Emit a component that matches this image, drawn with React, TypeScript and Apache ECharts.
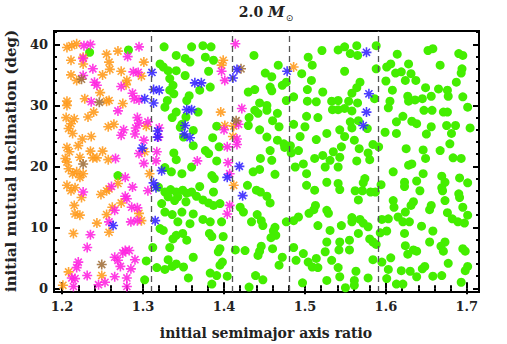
import { useEffect, useRef } from 'react';
import * as echarts from 'echarts';

const xMajorTicks = [1.2, 1.3, 1.4, 1.5, 1.6, 1.7];
const xMinorTicks = [1.22, 1.24, 1.26, 1.28, 1.32, 1.34, 1.36, 1.38, 1.42, 1.44, 1.46, 1.48, 1.52, 1.54, 1.56, 1.58, 1.62, 1.64, 1.66, 1.68];
const yMajorTicks = [0, 10, 20, 30, 40];
const yMinorTicks = [2, 4, 6, 8, 12, 14, 16, 18, 22, 24, 26, 28, 32, 34, 36, 38, 42];
const dashedLinesX = [1.312, 1.4074, 1.4806, 1.5885];

const greenPts = [
  [1.234,38.7],[1.282,39.1],[1.326,39.6],[1.341,38.2],[1.352,37.7],[1.360,39.6],[1.358,37.1],[1.321,36.8],[1.325,36.3],[1.331,35.7],[1.341,35.7],[1.333,34.4],[1.352,34.9],[1.338,31.9],[1.330,30.8],[1.327,29.7],[1.341,28.9],[1.354,30.8],[1.357,31.6],[1.353,28.1],[1.348,26.9],[1.362,25.9],[1.350,24.8],[1.338,22.2],[1.341,21.1],[1.362,23.4],
  [1.337,33.3],[1.333,32.5],[1.336,28.0],[1.346,26.4],
  [1.269,18.5],[1.327,19.8],[1.335,19.1],[1.348,18.8],[1.360,19.9],[1.319,16.6],[1.327,15.8],[1.334,16.2],[1.341,15.8],[1.349,16.1],[1.354,15.6],[1.331,15.0],[1.343,15.0],[1.360,15.8],[1.323,13.9],[1.339,14.4],[1.353,14.2],[1.327,12.5],[1.336,12.1],[1.348,12.5],[1.362,12.2],[1.343,10.9],[1.358,10.6],[1.325,9.5],[1.321,9.8],[1.341,8.7],[1.349,9.0],[1.354,7.9],[1.337,8.1],[1.312,6.7],[1.333,6.7],[1.362,5.1],[1.331,4.7],[1.304,4.5],[1.317,3.4],[1.327,3.1],[1.336,3.6],[1.341,4.0],[1.350,3.5],[1.356,1.7],[1.302,1.4],
  [1.374,39.8],[1.384,39.6],[1.377,37.9],[1.387,37.4],[1.381,35.6],[1.383,33.0],[1.370,32.5],[1.368,28.9],[1.391,26.6],[1.386,24.7],[1.394,23.2],[1.377,22.6],[1.381,22.1],[1.391,20.9],[1.437,38.2],[1.467,36.6],[1.451,35.3],[1.459,34.7],[1.457,33.0],[1.472,33.3],[1.477,33.8],[1.430,32.2],[1.438,32.6],[1.459,32.4],[1.444,30.4],[1.477,30.8],[1.438,29.2],[1.431,28.0],[1.442,28.7],[1.453,29.2],[1.466,28.7],[1.460,27.5],[1.453,30.0],[1.430,26.7],[1.444,26.0],[1.468,26.5],[1.453,24.8],[1.466,24.3],[1.474,23.7],[1.475,23.1],[1.457,22.6],[1.445,21.3],[1.459,21.0],[1.482,23.4],[1.504,37.9],[1.521,39.0],[1.509,36.6],[1.496,35.2],[1.508,34.1],[1.503,32.6],[1.522,32.2],[1.486,31.4],[1.503,30.7],[1.514,30.6],[1.533,30.7],[1.534,29.3],[1.502,28.2],[1.516,28.0],[1.486,26.9],[1.500,26.5],[1.494,24.9],[1.527,25.4],[1.514,24.4],[1.483,22.2],[1.492,22.6],[1.512,21.3],[1.531,21.0],[1.522,21.8],[1.535,22.4],
  [1.385,18.5],[1.388,18.0],[1.370,16.7],[1.387,15.8],[1.366,15.1],[1.374,14.5],[1.381,14.0],[1.387,13.6],[1.395,13.9],[1.374,11.3],[1.383,10.9],[1.397,10.9],[1.382,9.0],[1.385,8.5],[1.399,8.5],[1.395,6.5],[1.393,6.0],[1.398,4.3],[1.395,3.8],[1.383,2.5],[1.391,2.1],[1.404,2.0],[1.385,0.7],[1.431,0.2],[1.444,19.5],[1.436,19.1],[1.463,18.7],[1.429,16.9],[1.440,16.1],[1.445,15.8],[1.453,15.1],[1.457,14.0],[1.420,13.3],[1.424,12.5],[1.441,12.1],[1.434,10.9],[1.446,11.1],[1.448,10.3],[1.463,10.0],[1.461,9.4],[1.464,8.7],[1.458,8.3],[1.446,6.9],[1.444,6.1],[1.442,5.4],[1.460,6.5],[1.414,6.3],[1.426,6.2],[1.472,5.1],[1.468,3.8],[1.439,2.1],[1.448,1.4],[1.477,10.9],[1.486,11.1],[1.488,19.9],[1.498,20.4],[1.502,18.8],[1.525,19.9],[1.502,16.9],[1.512,16.1],[1.527,17.4],[1.513,13.6],[1.511,12.9],[1.505,12.3],[1.527,12.8],[1.529,12.3],[1.492,11.7],[1.516,10.3],[1.531,9.5],[1.486,6.7],[1.489,4.6],[1.498,5.7],[1.504,4.3],[1.509,3.5],[1.514,4.9],[1.516,3.4],[1.527,7.6],[1.525,6.0],[1.533,4.6],[1.527,1.3],[1.497,0.9],
  [1.541,39.1],[1.549,39.6],[1.556,38.5],[1.564,39.8],[1.565,38.2],[1.588,39.8],[1.588,36.0],[1.549,35.6],[1.568,33.8],[1.564,32.9],[1.558,32.0],[1.541,30.8],[1.554,30.7],[1.565,30.4],[1.541,29.3],[1.549,29.5],[1.558,29.1],[1.556,27.3],[1.566,27.5],[1.543,26.0],[1.558,26.3],[1.577,26.2],[1.549,24.9],[1.561,24.3],[1.545,23.2],[1.567,22.9],[1.578,22.2],[1.584,23.6],[1.591,23.2],[1.543,21.5],[1.564,20.9],[1.580,21.1],[1.586,31.1],[1.601,36.3],[1.606,36.8],[1.614,38.4],[1.612,35.3],[1.619,35.5],[1.628,36.8],[1.624,34.1],[1.631,35.2],[1.637,34.1],[1.600,34.0],[1.608,32.5],[1.605,30.7],[1.603,29.6],[1.628,30.7],[1.627,31.5],[1.636,30.9],[1.649,32.9],[1.656,31.5],[1.645,31.1],[1.621,28.2],[1.632,27.4],[1.613,27.3],[1.599,25.6],[1.613,25.4],[1.647,29.2],[1.657,29.2],[1.638,27.0],[1.650,25.3],[1.656,26.5],[1.652,39.0],[1.658,39.3],[1.667,36.6],[1.665,32.7],[1.676,32.5],[1.677,31.5],[1.687,33.8],[1.690,38.5],[1.695,38.2],[1.694,36.0],[1.693,35.3],[1.695,31.4],[1.701,29.7],[1.671,28.9],[1.676,28.9],[1.675,26.7],[1.686,26.7],[1.681,25.4],[1.679,23.7],[1.704,26.3],[1.625,22.9],[1.646,22.7],[1.667,22.6],[1.632,20.4],[1.649,21.3],[1.693,21.3],[1.683,21.4],
  [1.541,19.9],[1.628,20.2],[1.609,19.1],[1.646,18.8],[1.638,17.6],[1.623,17.4],[1.623,16.7],[1.669,18.4],[1.673,17.4],[1.691,18.1],[1.701,17.3],[1.574,18.0],[1.572,17.3],[1.541,17.2],[1.543,16.2],[1.562,16.0],[1.571,16.0],[1.581,15.8],[1.587,15.8],[1.594,17.0],[1.566,14.5],[1.642,16.0],[1.669,16.5],[1.670,16.0],[1.690,15.5],[1.691,14.9],[1.673,14.4],[1.609,14.4],[1.610,13.3],[1.634,14.2],[1.631,13.6],[1.624,12.5],[1.656,13.6],[1.654,12.9],[1.695,13.3],[1.701,12.0],[1.676,12.4],[1.682,11.4],[1.689,10.9],[1.697,10.7],[1.558,11.6],[1.558,10.9],[1.568,11.3],[1.572,10.7],[1.578,10.1],[1.545,10.3],[1.595,11.3],[1.603,11.4],[1.615,11.7],[1.621,10.9],[1.629,10.9],[1.644,10.2],[1.658,9.4],[1.623,9.0],[1.601,9.4],[1.593,9.1],[1.566,9.0],[1.555,7.9],[1.543,7.6],[1.580,8.1],[1.584,7.6],[1.588,7.2],[1.654,7.6],[1.673,7.6],[1.668,6.9],[1.624,7.0],[1.634,6.3],[1.627,5.6],[1.638,6.1],[1.671,6.1],[1.695,6.5],[1.698,6.1],[1.555,6.3],[1.542,6.3],[1.584,4.7],[1.595,4.3],[1.606,5.0],[1.677,4.1],[1.701,3.6],[1.698,2.9],[1.693,1.0],[1.541,3.4],[1.563,2.8],[1.603,3.1],[1.619,2.9],[1.630,2.8],[1.645,3.2],[1.648,3.6],[1.638,1.9],[1.658,2.0],[1.669,2.1],[1.578,1.7],[1.601,1.6],[1.543,1.9],[1.561,1.3],[1.561,0.5],[1.550,0.1],[1.613,0.7],[1.621,0.7],
];

const orangePts = [
  [1.206,39.5],[1.212,39.8],[1.218,40.1],[1.255,38.4],[1.269,38.9],[1.258,37.1],[1.211,37.4],[1.226,36.8],[1.226,37.9],[1.301,37.1],[1.273,35.6],[1.250,35.0],[1.259,35.9],[1.211,35.0],[1.218,34.1],[1.280,34.1],[1.279,33.4],[1.298,34.8],[1.247,32.1],[1.228,31.1],[1.206,30.7],[1.206,30.0],[1.239,28.9],[1.258,30.8],[1.255,30.7],[1.232,28.1],[1.205,28.0],[1.215,27.8],[1.211,27.0],[1.208,26.2],[1.213,25.4],[1.225,24.5],[1.236,24.9],[1.257,26.5],[1.264,26.9],[1.275,30.3],[1.304,26.6],[1.220,23.4],[1.206,23.1],[1.209,22.4],[1.204,21.3],[1.206,20.7],[1.222,21.5],[1.235,22.5],[1.238,21.4],[1.243,21.4],[1.250,22.5],[1.257,21.1],[1.302,22.4],
  [1.208,19.6],[1.213,18.8],[1.218,19.1],[1.226,18.8],[1.222,18.2],[1.206,16.9],[1.211,16.0],[1.216,16.5],[1.224,14.9],[1.248,15.4],[1.255,16.0],[1.258,16.3],[1.269,17.2],[1.308,18.8],[1.215,13.6],[1.216,12.2],[1.222,12.0],[1.262,13.3],[1.273,14.0],[1.255,12.1],[1.295,12.3],[1.298,11.1],[1.243,10.7],[1.258,9.2],[1.214,9.0],[1.249,2.1],[1.208,2.7],[1.201,0.5],
  [1.399,37.4],[1.397,36.6],[1.486,36.3],[1.396,28.9],[1.401,26.7],[1.412,26.6],[1.411,24.9],[1.412,16.9],
];

const magentaPts = [
  [1.227,39.8],[1.235,40.0],[1.295,39.6],[1.281,38.0],[1.226,37.7],[1.238,36.0],[1.226,34.9],[1.288,35.5],[1.294,35.4],[1.240,33.8],[1.243,33.3],[1.273,33.1],[1.287,32.0],[1.289,31.1],[1.295,30.9],[1.236,30.6],[1.269,29.1],[1.293,28.0],[1.295,27.1],[1.306,27.3],[1.291,26.3],[1.276,26.0],[1.273,25.1],[1.290,25.3],[1.301,24.3],[1.320,26.3],[1.319,24.8],[1.295,22.1],[1.317,22.4],[1.266,21.3],[1.301,20.5],
  [1.316,20.9],[1.278,18.2],[1.261,16.7],[1.287,16.6],[1.226,15.8],[1.306,16.0],[1.278,15.1],[1.280,14.7],[1.286,13.3],[1.293,13.2],[1.265,12.8],[1.293,11.1],[1.285,10.9],[1.258,10.9],[1.235,8.8],[1.231,6.7],[1.278,6.2],[1.283,6.2],[1.275,5.8],[1.265,5.1],[1.269,4.6],[1.272,3.6],[1.290,4.7],[1.285,3.2],[1.220,4.3],[1.218,3.4],[1.231,2.1],[1.212,1.7],[1.216,1.6],[1.265,1.9],[1.280,1.7],[1.253,1.0],[1.245,0.6],[1.214,0.3],[1.280,0.3],
  [1.414,40.1],[1.397,35.6],[1.401,34.1],[1.422,29.5],[1.418,26.9],[1.400,26.0],[1.416,24.5],[1.416,23.6],[1.404,23.2],[1.367,20.9],[1.405,20.6],[1.407,18.8],[1.407,13.6],[1.404,12.2],
];

const bluePts = [
  [1.311,35.4],[1.313,32.6],[1.320,32.5],[1.313,30.4],[1.302,31.1],[1.318,25.8],[1.318,24.8],[1.299,23.0],[1.364,33.7],[1.354,29.3],[1.360,29.3],[1.352,26.7],[1.351,25.3],[1.358,24.7],[1.323,19.3],[1.313,17.3],[1.316,16.5],[1.315,11.1],[1.263,10.3],[1.416,35.9],[1.411,34.5],[1.478,35.6],[1.372,33.7],[1.419,20.0],[1.404,18.2],[1.423,15.2],[1.576,38.7],[1.579,31.9],[1.576,28.9],[1.572,26.7],
];

const brownPts = [
  [1.224,34.3],[1.246,30.5],[1.226,20.4],[1.249,3.9],[1.421,36.0],[1.415,27.5],
];

const STAR =
  'path://M-5,-0.8L5,-0.8L5,0.8L-5,0.8Z M-0.8,-5L0.8,-5L0.8,5L-0.8,5Z M-4.1,-2.97L-2.97,-4.1L4.1,2.97L2.97,4.1Z M4.1,-2.97L-2.97,4.1L-4.1,2.97L2.97,-4.1Z';

const FONT = 'DejaVu Serif';

function xAxisDef(position: 'top' | 'bottom', ticks: number[], len: number, w: number, labels: boolean) {
  return {
    type: 'value',
    min: 1.19,
    max: 1.715,
    position,
    axisLine: { show: false },
    splitLine: { show: false },
    axisTick: { show: true, inside: true, length: len, customValues: ticks, lineStyle: { color: '#000', width: w } },
    axisLabel: labels
      ? {
          show: true,
          customValues: ticks,
          formatter: (v: number) => v.toFixed(1),
          fontFamily: FONT,
          fontWeight: 'bold',
          fontSize: 13,
          color: '#222',
          margin: 8,
        }
      : { show: false },
  };
}

function yAxisDef(position: 'left' | 'right', ticks: number[], len: number, w: number, labels: boolean) {
  return {
    type: 'value',
    min: -0.6,
    max: 42.2,
    position,
    axisLine: { show: false },
    splitLine: { show: false },
    axisTick: { show: true, inside: true, length: len, customValues: ticks, lineStyle: { color: '#000', width: w } },
    axisLabel: labels
      ? {
          show: true,
          customValues: ticks,
          formatter: (v: number) => String(Math.round(v)),
          fontFamily: FONT,
          fontWeight: 'bold',
          fontSize: 13,
          color: '#222',
          margin: 6,
        }
      : { show: false },
  };
}

function starSeries(name: string, data: number[][], color: string) {
  return {
    name,
    type: 'scatter',
    xAxisIndex: 0,
    yAxisIndex: 0,
    data,
    symbol: STAR,
    symbolSize: 10,
    z: 3,
    itemStyle: { color, opacity: 0.88 },
  };
}

export default function App() {
  const ref = useRef<HTMLDivElement>(null);
  useEffect(() => {
    if (!ref.current) return;
    const chart = echarts.init(ref.current, null, { renderer: 'svg' });
    chart.setOption({
      animation: false,
      backgroundColor: '#fff',
      grid: { left: 54, top: 31, width: 425, height: 261, show: true, borderColor: '#000', borderWidth: 2, backgroundColor: 'transparent' },
      xAxis: [
        xAxisDef('bottom', xMajorTicks, 6, 2, true),
        xAxisDef('bottom', xMinorTicks, 3, 2, false),
        xAxisDef('top', xMajorTicks, 6, 2, false),
        xAxisDef('top', xMinorTicks, 3, 2, false),
      ],
      yAxis: [
        yAxisDef('left', yMajorTicks, 6, 2, true),
        yAxisDef('left', yMinorTicks, 3, 2, false),
        yAxisDef('right', yMajorTicks, 6, 2, false),
        yAxisDef('right', yMinorTicks, 3, 2, false),
      ],
      graphic: [
        {
          type: 'text',
          x: 266,
          y: 12,
          style: {
            text: '{a|2.0 }{m|M}{s|⊙}',
            align: 'center',
            verticalAlign: 'middle',
            rich: {
              a: { fontFamily: FONT, fontWeight: 'bold', fontSize: 14, fill: '#222' },
              m: { fontFamily: FONT, fontWeight: 'bold', fontStyle: 'italic', fontSize: 15, fill: '#222' },
              s: { fontFamily: 'DejaVu Sans', fontSize: 9, fill: '#222', padding: [11, 0, 0, 1] },
            },
          },
        },
        {
          type: 'text',
          x: 266,
          y: 333,
          style: {
            text: 'initial semimajor axis ratio',
            align: 'center',
            verticalAlign: 'middle',
            font: `bold 14px "${FONT}"`,
            fill: '#222',
          },
        },
        {
          type: 'text',
          x: 11,
          y: 161,
          rotation: Math.PI / 2,
          style: {
            text: 'initial mutual inclination (deg)',
            align: 'center',
            verticalAlign: 'middle',
            font: `bold 15px "${FONT}"`,
            fill: '#222',
          },
        },
      ],
      series: [
        {
          name: 'limits',
          type: 'scatter',
          data: [],
          z: 1,
          markLine: {
            silent: true,
            symbol: ['none', 'none'],
            label: { show: false },
            lineStyle: { type: [6, 4], color: '#555', width: 1.3 },
            data: dashedLinesX.map((v) => ({ xAxis: v })),
          },
        },
        {
          name: 'green',
          type: 'scatter',
          data: greenPts,
          symbol: 'circle',
          symbolSize: 9,
          z: 2,
          itemStyle: { color: '#44ee00', opacity: 1 },
        },
        starSeries('orange', orangePts, '#ff9a1a'),
        starSeries('magenta', magentaPts, '#ff22e0'),
        starSeries('brown', brownPts, '#a0703a'),
        starSeries('blue', bluePts, '#3322ff'),
      ],
    });
    return () => chart.dispose();
  }, []);
  return <div ref={ref} style={{ position: 'fixed', left: 0, top: 0, width: 507, height: 344 }} />;
}
